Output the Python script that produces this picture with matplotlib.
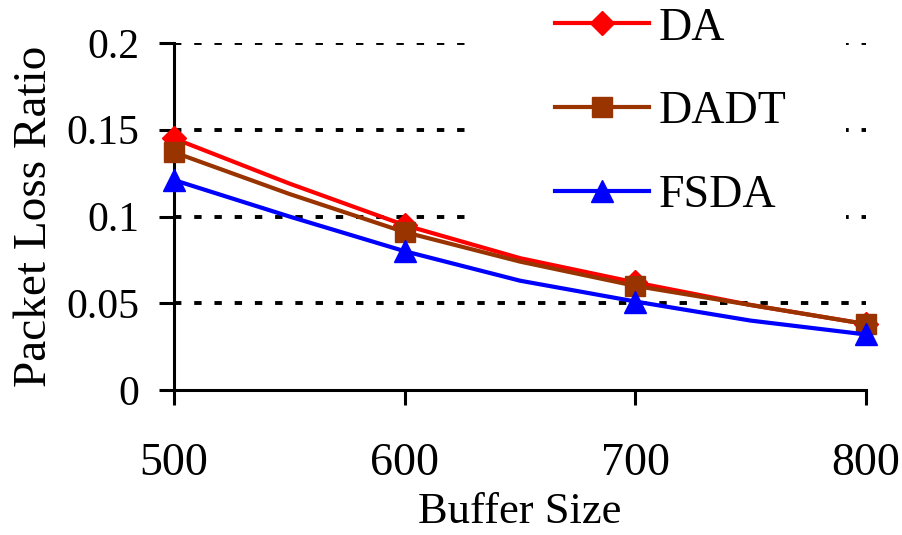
import matplotlib
matplotlib.use("Agg")
import matplotlib.pyplot as plt
from matplotlib.patches import Rectangle

plt.rcParams['font.family'] = ['Liberation Serif', 'DejaVu Serif']

# buffer sizes with marker points; intermediate points
buffer_size = [500, 550, 600, 650, 700, 750, 800]
da = [0.145, 0.119, 0.095, 0.076, 0.062, 0.049, 0.038]
dadt = [0.137, 0.113, 0.091, 0.074, 0.060, 0.049, 0.038]
fsda = [0.121, 0.100, 0.080, 0.063, 0.051, 0.040, 0.032]
marker_idx = [0, 2, 4, 6]

x_ticks = [500, 600, 700, 800]
y_ticks = [0, 0.05, 0.1, 0.15, 0.2]
y_tick_labels = ["0", "0.05", "0.1", "0.15", "0.2"]

FS = 33


def main():
    fig = plt.figure(figsize=(9.03, 5.35), dpi=100)
    ax = fig.add_axes([174 / 903, 1 - 390 / 535, 692 / 903, 347 / 535])

    for y in y_ticks[1:]:
        ax.axhline(y, color="black", lw=2.8, linestyle=(0, (1.9, 3.3)), zorder=1)

    ax.plot(buffer_size, da, color="#ff0000", lw=3, marker="D", markersize=12,
            markevery=marker_idx, label="DA", clip_on=False, zorder=4)
    ax.plot(buffer_size, dadt, color="#993300", lw=3, marker="s", markersize=14,
            markevery=marker_idx, label="DADT", clip_on=False, zorder=5)
    ax.plot(buffer_size, fsda, color="#0000ff", lw=3, marker="^", markersize=16,
            markevery=marker_idx, label="FSDA", clip_on=False, zorder=6)

    ax.set_xlim(500, 800)
    ax.set_ylim(0, 0.2)
    ax.set_xticks(x_ticks)
    ax.set_yticks(y_ticks, y_tick_labels)
    for side in ("top", "right"):
        ax.spines[side].set_visible(False)
    for side in ("left", "bottom"):
        ax.spines[side].set_linewidth(2.2)
    ax.tick_params(axis="x", direction="out", length=11, width=2.2, pad=27, labelsize=FS)
    ax.tick_params(axis="y", direction="out", length=11, width=2.2, pad=14, labelsize=30)

    ax.set_xlabel("Buffer Size", fontsize=32, labelpad=5)
    ax.set_ylabel("Packet Loss Ratio", fontsize=34)
    ax.yaxis.set_label_coords(-0.17, 0.5)

    # white legend area covering the gridlines
    ax.add_patch(Rectangle((466 / 903, 1 - 228 / 535), 380 / 903, 228 / 535,
                           transform=fig.transFigure, facecolor="white",
                           edgecolor="none", zorder=8, clip_on=False))

    leg = ax.legend(loc="upper left", bbox_to_anchor=(555 / 903, 1 - 7 / 535),
                    bbox_transform=fig.transFigure, fontsize=FS, frameon=False,
                    handlelength=2.05, handletextpad=0.22, labelspacing=0.9,
                    borderpad=0, borderaxespad=0)
    leg.set_zorder(10)

    fig.savefig("out.png", dpi=100)


if __name__ == "__main__":
    main()
